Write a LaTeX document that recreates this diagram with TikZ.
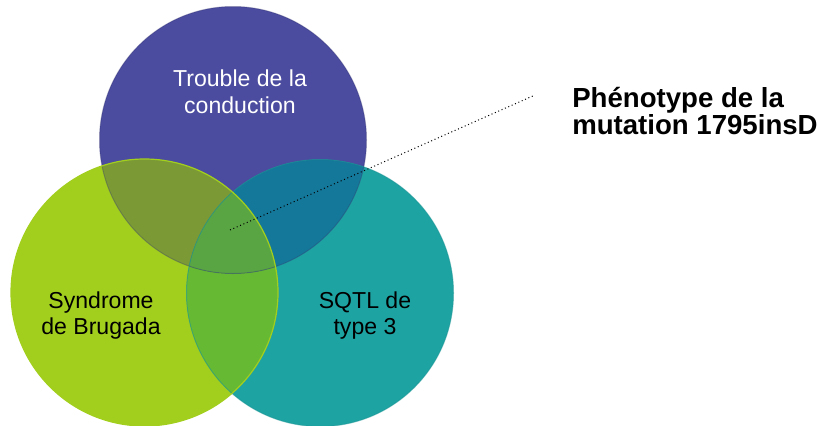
\documentclass[tikz,border=0pt]{standalone}
\usepackage{fontspec}
\setmainfont{Liberation Sans}
\definecolor{vennPurple}{RGB}{75,75,160}
\definecolor{vennLime}{RGB}{162,206,30}
\definecolor{vennTeal}{RGB}{30,163,163}
\definecolor{vennOlive}{RGB}{123,154,54}
\definecolor{vennDeep}{RGB}{20,120,154}
\definecolor{vennMid}{RGB}{102,186,51}
\definecolor{vennCore}{RGB}{90,165,67}
\tikzset{
  circtext/.style={align=center, inner sep=0.75pt, font=\fontsize{17.3}{20}\selectfont},
  phenotext/.style={align=left, inner sep=0.75pt, font=\bfseries\fontsize{20.7}{18.9}\selectfont},
}
\begin{document}
\begin{tikzpicture}[x=0.75pt,y=0.75pt,yscale=-1,xscale=1]
\useasboundingbox (0,0) rectangle (817,425);

\coordinate (ctop) at (233,140);
\coordinate (cleft) at (144.5,292.5);
\coordinate (cright) at (320,293);

%Shape: Circle [base fills]
\fill [vennPurple] (ctop) circle (133.5);
\fill [vennLime] (cleft) circle (133.5);
\fill [vennTeal] (cright) circle (133.5);
%Shape: Circle [lime and teal overlap]
\begin{scope}
\clip (cleft) circle (133.5);
\fill [vennMid] (cright) circle (133.5);
\end{scope}
%Shape: Circle [overlaps with the top circle]
\begin{scope}
\clip (ctop) circle (133.5);
\fill [vennOlive] (cleft) circle (133.5);
\fill [vennDeep] (cright) circle (133.5);
\clip (cleft) circle (133.5);
\fill [vennCore] (cright) circle (133.5);
\end{scope}
%Shape: Circle [outlines]
\draw [vennPurple!70!black, draw opacity=0.35, line width=0.75] (ctop) circle (133.5);
\draw [vennTeal!90!black, draw opacity=0.5, line width=0.75] (cright) circle (133.5);
\draw [vennLime, line width=0.9] (cleft) circle (133.5);

% Text Node
\node [circtext, text=white] (trouble) at (240,91.5) {Trouble de la\\conduction};
% Text Node
\node [circtext] (brugada) at (101,315.6) {Syndrome\\de Brugada};
% Text Node
\node [circtext] (sqtl) at (365,315.6) {SQTL de\\type 3};
% Text Node
\node [phenotext, anchor=west] (pheno) at (571,111) {Phénotype de la\\mutation 1795insD};

%Straight Lines [pointer]
\coordinate (core) at (230,230);
\coordinate (tip) at (535,95);
\draw [dotted, line width=0.75] (core) -- (tip);

\end{tikzpicture}
\end{document}
